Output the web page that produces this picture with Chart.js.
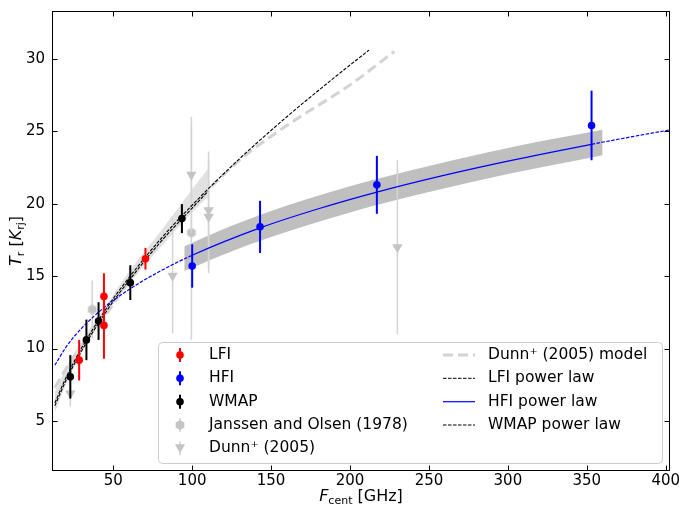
<!DOCTYPE html>
<html>
<head>
<meta charset="utf-8">
<script src="https://cdn.jsdelivr.net/npm/chart.js@4.4.0/dist/chart.umd.min.js"></script>
<style>
  html, body { margin: 0; padding: 0; background: #fff; }
</style>
</head>
<body>
<canvas id="chart" width="680" height="506"></canvas>
<script>
// axis ticks
const xTicks = [50, 100, 150, 200, 250, 300, 350, 400];
const yTicks = [5, 10, 15, 20, 25, 30];

// measured points: frequency (GHz), temperature (K), 1-sigma error
const lfiFreq = [28.4, 44.1, 44.1, 70.4];
const lfiTemp = [9.2, 13.6, 11.6, 16.2];
const lfiErr = [1.4, 1.6, 2.3, 0.75];

const hfiFreq = [100, 143, 217, 353];
const hfiTemp = [15.7, 18.4, 21.3, 25.4];
const hfiErr = [1.5, 1.8, 2.0, 2.4];

const wmapFreq = [22.8, 33.0, 40.7, 60.8, 93.5];
const wmapTemp = [8.05, 10.6, 11.9, 14.55, 18.97];
const wmapErr = [1.5, 1.4, 1.3, 1.2, 1.0];

const janssenFreq = [36.7, 99.5];
const janssenTemp = [12.7, 18.0];
const janssenErr = [2.0, 7.4];

const dunnFreq = [22.8, 87.6, 99.5, 110.4, 110.4, 230];
const dunnTemp = [6.9, 15.03, 22.0, 19.55, 19.1, 17.0];
const dunnErr = [0.9, 3.97, 4.0, 4.05, 3.9, 6.0];

// fitted curves
const lfiLawFreq = [13, 20, 30, 45, 60, 80, 100, 130, 160, 190, 212];
const lfiLawTemp = [6.25, 7.98, 10.05, 12.67, 14.9, 17.56, 19.9, 23.1, 26.0, 28.7, 30.6];

const wmapLawFreq = [13, 20, 30, 45, 60, 80, 100, 110];
const wmapLawTemp = [6.05, 7.78, 9.85, 12.47, 14.7, 17.36, 19.7, 20.85];

const hfiLawFreq = [13, 20, 30, 45, 60, 80, 100, 143, 180, 217, 260, 300, 353, 380, 403];
const hfiLawTemp = [8.85, 10.09, 11.41, 12.9, 14.08, 15.36, 16.44, 18.33, 19.65, 20.8, 21.97, 22.94, 24.1, 24.65, 25.1];

const dunnModelFreq = [13, 20, 30, 45, 60, 80, 100, 130, 160, 200, 228];
const dunnModelTemp = [7.3, 8.6, 10.2, 12.3, 14.6, 17.4, 19.8, 23.0, 25.4, 28.2, 30.5];

// uncertainty bands
const lowBandFreq = [13, 20, 30, 45, 60, 80, 100, 110];
const lowBandUpper = [7.0, 8.6, 10.5, 12.9, 15.3, 18.1, 21.0, 22.4];
const lowBandLower = [5.6, 7.5, 9.7, 12.3, 14.5, 17.0, 19.4, 20.5];

const hfiBandFreq = [95, 120, 150, 200, 250, 300, 360];
const hfiBandUpper = [17.05, 18.25, 19.5, 21.2, 22.6, 23.85, 25.1];
const hfiBandLower = [15.35, 16.5, 17.7, 19.4, 20.8, 22.05, 23.35];

const FONT = "'DejaVu Sans', sans-serif";
const GRAY_MARK = "#c4c4c4";
const GRAY_BAR = "#d4d4d4";

const pts = (xs, ys) => xs.map((v, i) => ({ x: v, y: ys[i] }));

function hexagon(r, color) {
  const c = document.createElement("canvas");
  const s = Math.ceil(r * 2) + 2;
  c.width = s;
  c.height = s;
  const g = c.getContext("2d");
  g.fillStyle = color;
  g.beginPath();
  for (let i = 0; i < 6; i++) {
    const a = -Math.PI / 2 + (i * Math.PI) / 3;
    g.lineTo(s / 2 + r * Math.cos(a), s / 2 + r * Math.sin(a));
  }
  g.closePath();
  g.fill();
  return c;
}
const hexMark = hexagon(5, GRAY_MARK);

function curve(label, xs, ys, color, width, dash, order) {
  return {
    label, data: pts(xs, ys), borderColor: color, borderWidth: width,
    borderDash: dash, pointRadius: 0, fill: false, order,
    cubicInterpolationMode: "monotone",
  };
}

function band(xs, upper, lower, color, order) {
  return [
    { data: pts(xs, upper), borderWidth: 0, pointRadius: 0, backgroundColor: color, fill: "+1", order, cubicInterpolationMode: "monotone" },
    { data: pts(xs, lower), borderWidth: 0, pointRadius: 0, fill: false, order, cubicInterpolationMode: "monotone" },
  ];
}

function points(label, xs, ys, err, color, style, radius, errColor, errWidth, order) {
  return {
    label, data: pts(xs, ys), showLine: false, pointStyle: style,
    pointRadius: radius, pointBackgroundColor: color, pointBorderWidth: 0,
    pointRotation: style === "triangle" ? 180 : 0,
    yErr: err, errColor, errWidth, order,
  };
}

// vertical error bars drawn right before each point set
const errorBars = {
  id: "errorBars",
  beforeDatasetDraw(chart, args) {
    const ds = chart.data.datasets[args.index];
    if (!ds.yErr) return;
    const { ctx } = chart;
    const { x, y } = chart.scales;
    ctx.save();
    ctx.strokeStyle = ds.errColor;
    ctx.lineWidth = ds.errWidth;
    ds.data.forEach((p, i) => {
      const px = x.getPixelForValue(p.x);
      ctx.beginPath();
      ctx.moveTo(px, y.getPixelForValue(p.y - ds.yErr[i]));
      ctx.lineTo(px, y.getPixelForValue(p.y + ds.yErr[i]));
      ctx.stroke();
    });
    ctx.restore();
  },
};

function drawParts(ctx, parts, cx, baseline) {
  let w = 0;
  parts.forEach((p) => {
    ctx.font = `${p.italic ? "italic " : ""}${p.size}px ${FONT}`;
    p.w = ctx.measureText(p.t).width;
    w += p.w;
  });
  let x = cx - w / 2;
  ctx.textBaseline = "alphabetic";
  ctx.textAlign = "left";
  parts.forEach((p) => {
    ctx.font = `${p.italic ? "italic " : ""}${p.size}px ${FONT}`;
    ctx.fillText(p.t, x, baseline + (p.dy || 0));
    x += p.w;
  });
}

// frame, inward ticks and axis titles
const frame = {
  id: "frame",
  afterDraw(chart) {
    const { ctx, chartArea: a } = chart;
    const { x, y } = chart.scales;
    const L = Math.round(a.left) + 0.5, R = Math.round(a.right) - 0.5;
    const T = Math.round(a.top) + 0.5, B = Math.round(a.bottom) - 0.5;
    ctx.save();
    ctx.strokeStyle = "#000";
    ctx.lineWidth = 1;
    ctx.strokeRect(L, T, R - L, B - T);
    ctx.beginPath();
    xTicks.forEach((v) => {
      const px = Math.round(x.getPixelForValue(v)) + 0.5;
      ctx.moveTo(px, B); ctx.lineTo(px, B - 5);
      ctx.moveTo(px, T); ctx.lineTo(px, T + 5);
    });
    yTicks.forEach((v) => {
      const py = Math.round(y.getPixelForValue(v)) + 0.5;
      ctx.moveTo(L, py); ctx.lineTo(L + 5, py);
      ctx.moveTo(R, py); ctx.lineTo(R - 5, py);
    });
    ctx.stroke();

    ctx.fillStyle = "#000";
    drawParts(ctx, [
      { t: "F", size: 16, italic: true },
      { t: "cent", size: 11, dy: 3 },
      { t: " [GHz]", size: 16 },
    ], (a.left + a.right) / 2, 501);

    ctx.translate(21, (a.top + a.bottom) / 2);
    ctx.rotate(-Math.PI / 2);
    drawParts(ctx, [
      { t: "T", size: 16, italic: true },
      { t: "r", size: 11, dy: 3 },
      { t: " [", size: 16 },
      { t: "K", size: 16, italic: true },
      { t: "rj", size: 11, dy: 3 },
      { t: "]", size: 16 },
    ], 0, 0);
    ctx.restore();
  },
};

// two-column legend inside the axes
const legendBox = {
  id: "legendBox",
  afterDraw(chart) {
    const { ctx } = chart;
    const L = 158.5, T = 342.5, R = 662.5, B = 463.5, r = 4;
    ctx.save();
    ctx.beginPath();
    ctx.moveTo(L + r, T);
    ctx.arcTo(R, T, R, B, r);
    ctx.arcTo(R, B, L, B, r);
    ctx.arcTo(L, B, L, T, r);
    ctx.arcTo(L, T, R, T, r);
    ctx.closePath();
    ctx.fillStyle = "rgba(255,255,255,0.8)";
    ctx.fill();
    ctx.strokeStyle = "#cccccc";
    ctx.lineWidth = 1;
    ctx.stroke();

    const rows = [355, 378.3, 401.7, 425, 448.3];
    const mx = 180, tx = 209;
    const marks = [
      ["LFI", "red", "circle"],
      ["HFI", "blue", "circle"],
      ["WMAP", "black", "circle"],
      ["Janssen and Olsen (1978)", GRAY_MARK, "hex"],
      ["Dunn\u207A (2005)", GRAY_MARK, "triangle"],
    ];
    const font = `15.5px ${FONT}`;
    marks.forEach(([label, color, style], i) => {
      const yy = rows[i];
      const gray = style !== "circle";
      ctx.strokeStyle = gray ? GRAY_BAR : color;
      ctx.lineWidth = gray ? 1.5 : 2;
      ctx.beginPath();
      ctx.moveTo(mx, yy - 7);
      ctx.lineTo(mx, yy + 7);
      ctx.stroke();
      ctx.fillStyle = color;
      if (style === "circle") {
        ctx.beginPath();
        ctx.arc(mx, yy, 3.8, 0, Math.PI * 2);
        ctx.fill();
      } else if (style === "hex") {
        ctx.drawImage(hexMark, mx - hexMark.width / 2, yy - hexMark.height / 2);
      } else {
        ctx.beginPath();
        ctx.moveTo(mx - 5, yy - 4);
        ctx.lineTo(mx + 5, yy - 4);
        ctx.lineTo(mx, yy + 5);
        ctx.closePath();
        ctx.fill();
      }
      ctx.fillStyle = "#000";
      ctx.font = font;
      ctx.textBaseline = "middle";
      ctx.textAlign = "left";
      ctx.fillText(label, tx, yy);
    });

    const lx0 = 443, lx1 = 475, ltx = 488;
    const lines = [
      ["Dunn\u207A (2005) model", "#d3d3d3", 3, [10, 5]],
      ["LFI power law", "#000", 1, [3.5, 1.5]],
      ["HFI power law", "blue", 1.2, []],
      ["WMAP power law", "#000", 1, [3.5, 1.5]],
    ];
    lines.forEach(([label, color, w, dash], i) => {
      const yy = rows[i];
      ctx.strokeStyle = color;
      ctx.lineWidth = w;
      ctx.setLineDash(dash);
      ctx.beginPath();
      ctx.moveTo(lx0, yy);
      ctx.lineTo(lx1, yy);
      ctx.stroke();
      ctx.setLineDash([]);
      ctx.fillStyle = "#000";
      ctx.font = font;
      ctx.textBaseline = "middle";
      ctx.fillText(label, ltx, yy);
    });
    ctx.restore();
  },
};

Chart.defaults.font.family = FONT;
Chart.defaults.font.size = 15;
Chart.defaults.color = "#000";

const hfiLaw = curve("HFI power law", hfiLawFreq, hfiLawTemp, "blue", 1.2, [], 8);
hfiLaw.segment = {
  borderDash: (c) => (c.p0.parsed.x < 100 || c.p0.parsed.x >= 353 ? [3.5, 1.5] : []),
};

const noPad = (s) => {
  s.paddingTop = 0;
  s.paddingBottom = 0;
  s.paddingLeft = 0;
  s.paddingRight = 0;
};

new Chart(document.getElementById("chart"), {
  type: "line",
  data: {
    datasets: [
      ...band(lowBandFreq, lowBandUpper, lowBandLower, "rgba(128,128,128,0.24)", 30),
      ...band(hfiBandFreq, hfiBandUpper, hfiBandLower, "rgba(128,128,128,0.5)", 30),
      curve("Dunn+ (2005) model", dunnModelFreq, dunnModelTemp, "#d3d3d3", 3, [10, 5], 20),
      points("Dunn+ (2005)", dunnFreq, dunnTemp, dunnErr, GRAY_MARK, "triangle", 6, GRAY_BAR, 1.5, 15),
      points("Janssen and Olsen (1978)", janssenFreq, janssenTemp, janssenErr, GRAY_MARK, hexMark, 5, GRAY_BAR, 1.5, 15),
      curve("WMAP power law", wmapLawFreq, wmapLawTemp, "#000", 1.1, [3.5, 1.5], 10),
      curve("LFI power law", lfiLawFreq, lfiLawTemp, "#000", 1.1, [3.5, 1.5], 10),
      hfiLaw,
      points("WMAP", wmapFreq, wmapTemp, wmapErr, "black", "circle", 3.8, "black", 2, 3),
      points("HFI", hfiFreq, hfiTemp, hfiErr, "blue", "circle", 3.8, "blue", 2, 2),
      points("LFI", lfiFreq, lfiTemp, lfiErr, "red", "circle", 3.8, "red", 2, 1),
    ],
  },
  options: {
    responsive: false,
    animation: false,
    devicePixelRatio: 1,
    layout: { padding: { top: 11, right: 10, left: 0, bottom: 0 } },
    plugins: { legend: { display: false }, tooltip: { enabled: false } },
    scales: {
      x: {
        type: "linear",
        min: 11.2,
        max: 402.7,
        grid: { display: false, drawTicks: false },
        border: { display: false },
        afterBuildTicks: (s) => { s.ticks = xTicks.map((v) => ({ value: v })); },
        afterFit: (s) => { s.height = 35; noPad(s); },
        ticks: { padding: 1, maxRotation: 0, autoSkip: false },
      },
      y: {
        type: "linear",
        min: 1.55,
        max: 33.3,
        grid: { display: false, drawTicks: false },
        border: { display: false },
        afterBuildTicks: (s) => { s.ticks = yTicks.map((v) => ({ value: v })); },
        afterFit: (s) => { s.width = 52; noPad(s); },
        ticks: { padding: 7 },
      },
    },
  },
  plugins: [errorBars, frame, legendBox],
});
</script>
</body>
</html>
